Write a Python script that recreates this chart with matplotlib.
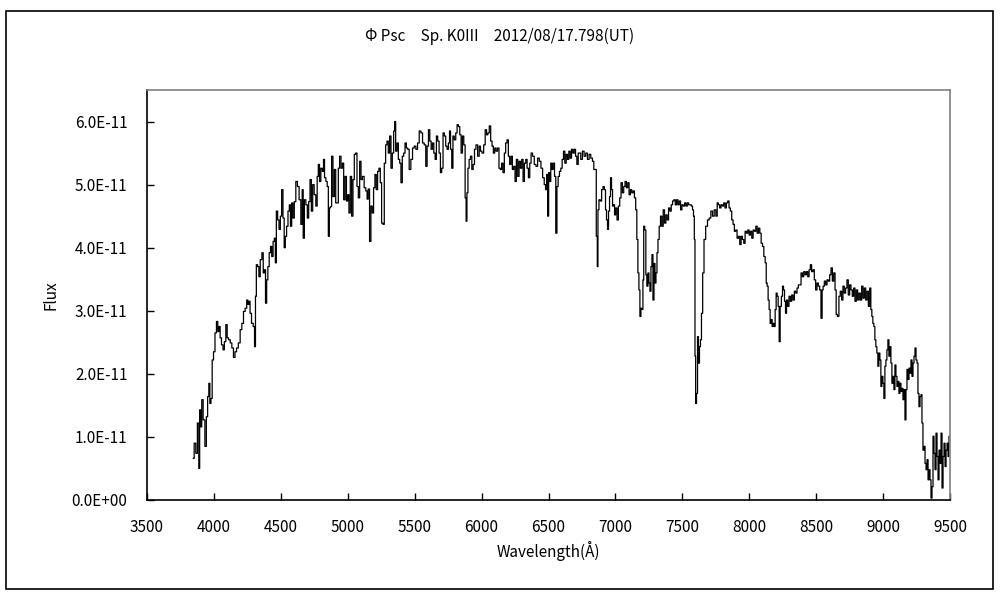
import matplotlib
matplotlib.use("Agg")
import matplotlib.pyplot as plt
from matplotlib.patches import Rectangle
from matplotlib.ticker import FuncFormatter

plt.rcParams['font.family'] = ['Noto Sans CJK JP', 'DejaVu Sans']

# wavelength (A) and flux (units of 1E-11)
wavelength = [
    3846, 3859, 3870, 3883, 3891, 3896, 3905, 3913, 3926, 3939,
    3948, 3958, 3966, 3973, 3983, 3991, 4003, 4013, 4025, 4033,
    4043, 4050, 4063, 4073, 4083, 4095, 4103, 4116, 4128, 4140,
    4152, 4163, 4175, 4190, 4202, 4215, 4227, 4240, 4250, 4257,
    4265, 4275, 4287, 4300, 4307, 4314, 4320, 4332, 4340, 4352,
    4365, 4372, 4382, 4389, 4399, 4407, 4419, 4427, 4437, 4447,
    4456, 4462, 4471, 4481, 4492, 4501, 4511, 4521, 4529, 4538,
    4548, 4559, 4568, 4576, 4586, 4595, 4606, 4618, 4630, 4643,
    4656, 4663, 4671, 4681, 4693, 4703, 4713, 4723, 4733, 4743,
    4755, 4768, 4775, 4785, 4793, 4805, 4815, 4823, 4830, 4843,
    4850, 4860, 4865, 4875, 4884, 4895, 4905, 4915, 4925, 4934,
    4944, 4955, 4965, 4974, 4985, 4995, 5004, 5014, 5024, 5034,
    5044, 5054, 5064, 5074, 5084, 5094, 5104, 5116, 5129, 5141,
    5148, 5158, 5168, 5178, 5188, 5198, 5208, 5218, 5228, 5238,
    5248, 5258, 5268, 5278, 5288, 5298, 5308, 5318, 5328, 5338,
    5348, 5353, 5363, 5373, 5383, 5393, 5402, 5413, 5423, 5433,
    5443, 5453, 5465, 5478, 5490, 5503, 5515, 5528, 5540, 5553,
    5565, 5578, 5588, 5598, 5608, 5618, 5628, 5638, 5648, 5658,
    5667, 5677, 5688, 5697, 5707, 5717, 5727, 5737, 5747, 5757,
    5764, 5772, 5782, 5790, 5802, 5812, 5822, 5832, 5842, 5852,
    5862, 5872, 5882, 5887, 5894, 5902, 5912, 5922, 5932, 5942,
    5952, 5964, 5977, 5987, 5997, 6009, 6022, 6032, 6042, 6052,
    6063, 6073, 6083, 6093, 6103, 6113, 6125, 6135, 6145, 6155,
    6165, 6175, 6185, 6195, 6205, 6215, 6225, 6235, 6245, 6255,
    6265, 6275, 6285, 6295, 6305, 6315, 6325, 6335, 6345, 6355,
    6365, 6375, 6387, 6400, 6412, 6425, 6437, 6450, 6462, 6474,
    6482, 6490, 6497, 6505, 6512, 6522, 6530, 6540, 6550, 6559,
    6567, 6577, 6587, 6597, 6607, 6617, 6627, 6637, 6647, 6657,
    6667, 6677, 6687, 6697, 6707, 6717, 6727, 6735, 6747, 6760,
    6772, 6785, 6797, 6810, 6822, 6835, 6842, 6852, 6862, 6867,
    6872, 6882, 6892, 6902, 6912, 6922, 6930, 6937, 6945, 6952,
    6960, 6967, 6975, 6982, 6990, 6997, 7007, 7017, 7027, 7037,
    7047, 7057, 7067, 7077, 7087, 7097, 7107, 7117, 7127, 7137,
    7147, 7156, 7164, 7172, 7179, 7187, 7194, 7202, 7209, 7214,
    7224, 7231, 7239, 7247, 7254, 7262, 7269, 7277, 7284, 7292,
    7299, 7307, 7314, 7322, 7332, 7342, 7352, 7362, 7372, 7382,
    7392, 7402, 7412, 7422, 7432, 7442, 7452, 7462, 7472, 7482,
    7492, 7502, 7512, 7522, 7532, 7542, 7552, 7562, 7572, 7580,
    7587, 7592, 7597, 7602, 7610, 7617, 7624, 7632, 7639, 7647,
    7657, 7667, 7682, 7694, 7707, 7719, 7732, 7744, 7757, 7764,
    7774, 7784, 7794, 7804, 7814, 7824, 7834, 7844, 7854, 7864,
    7874, 7884, 7894, 7904, 7914, 7924, 7934, 7944, 7954, 7964,
    7974, 7984, 7994, 8004, 8014, 8024, 8034, 8044, 8054, 8064,
    8074, 8084, 8094, 8104, 8114, 8124, 8130, 8137, 8145, 8152,
    8160, 8167, 8175, 8182, 8190, 8197, 8205, 8212, 8220, 8227,
    8235, 8245, 8252, 8260, 8267, 8275, 8282, 8292, 8302, 8312,
    8322, 8332, 8342, 8352, 8362, 8372, 8382, 8392, 8402, 8412,
    8422, 8432, 8442, 8452, 8461, 8471, 8481, 8491, 8501, 8511,
    8521, 8531, 8541, 8548, 8556, 8566, 8576, 8586, 8596, 8606,
    8616, 8626, 8636, 8646, 8653, 8665, 8675, 8685, 8695, 8705,
    8715, 8725, 8735, 8745, 8755, 8765, 8775, 8785, 8795, 8805,
    8815, 8825, 8835, 8845, 8855, 8865, 8875, 8885, 8895, 8905,
    8912, 8920, 8927, 8935, 8942, 8950, 8957, 8965, 8972, 8980,
    8987, 8995, 9002, 9010, 9017, 9025, 9032, 9040, 9047, 9055,
    9062, 9070, 9077, 9085, 9092, 9100, 9107, 9115, 9122, 9130,
    9137, 9145, 9152, 9160, 9167, 9175, 9182, 9190, 9197, 9205,
    9212, 9220, 9227, 9235, 9242, 9250, 9257, 9264, 9272, 9280,
    9287, 9294, 9302, 9310, 9317, 9325, 9332, 9340, 9347, 9354,
    9362, 9369, 9377, 9384, 9392, 9399, 9407, 9414, 9422, 9429,
    9437, 9444, 9452, 9459, 9467, 9474, 9482, 9489, 9496,
]

flux_e11 = [
    0.66, 0.90, 0.74, 1.22, 0.50, 1.43, 1.16, 1.59, 1.27, 0.85,
    1.32, 1.64, 1.85, 1.53, 1.61, 2.22, 2.35, 2.65, 2.83, 2.67,
    2.75, 2.57, 2.46, 2.38, 2.51, 2.78, 2.57, 2.54, 2.49, 2.41,
    2.26, 2.35, 2.41, 2.49, 2.70, 2.80, 2.99, 3.04, 3.17, 3.10,
    3.15, 2.96, 2.80, 2.75, 2.43, 3.23, 3.73, 3.70, 3.54, 3.81,
    3.92, 3.60, 3.65, 3.12, 3.49, 3.70, 3.92, 4.02, 3.86, 4.10,
    4.15, 3.76, 4.58, 4.44, 4.29, 4.50, 4.92, 4.47, 4.00, 4.18,
    4.34, 4.58, 4.68, 4.34, 4.71, 4.47, 4.73, 5.05, 4.97, 4.76,
    4.37, 4.92, 4.15, 4.76, 4.68, 4.47, 4.73, 5.08, 4.58, 5.00,
    4.84, 4.66, 5.13, 5.32, 5.05, 5.26, 5.21, 5.40, 5.11, 5.05,
    4.97, 4.18, 4.63, 4.65, 5.45, 4.81, 5.24, 4.71, 4.71, 5.26,
    5.45, 5.26, 5.34, 4.76, 5.13, 4.74, 4.84, 4.55, 5.13, 4.50,
    5.08, 5.48, 5.50, 4.97, 4.79, 5.37, 5.08, 5.13, 4.95, 4.90,
    4.77, 4.93, 4.10, 4.66, 4.55, 4.95, 5.16, 4.92, 5.21, 5.26,
    5.03, 4.39, 4.37, 5.34, 5.63, 5.69, 5.50, 5.77, 5.26, 5.50,
    5.85, 6.00, 5.53, 5.66, 5.40, 5.34, 5.03, 5.45, 5.50, 5.66,
    5.58, 5.56, 5.24, 5.40, 5.58, 5.61, 5.56, 5.66, 5.85, 5.82,
    5.66, 5.63, 5.29, 5.61, 5.87, 5.69, 5.56, 5.66, 5.50, 5.40,
    5.77, 5.69, 5.50, 5.19, 5.26, 5.82, 5.77, 5.61, 5.56, 5.66,
    5.85, 5.56, 5.26, 5.77, 5.71, 5.82, 5.95, 5.92, 5.79, 5.50,
    5.77, 5.63, 4.79, 4.42, 4.87, 5.26, 5.40, 5.45, 5.24, 5.32,
    5.56, 5.63, 5.45, 5.61, 5.53, 5.50, 5.63, 5.87, 5.79, 5.82,
    5.93, 5.69, 5.61, 5.50, 5.58, 5.53, 5.58, 5.26, 5.24, 5.34,
    5.19, 5.50, 5.66, 5.71, 5.45, 5.32, 5.45, 5.24, 5.29, 5.05,
    5.40, 5.13, 5.37, 5.26, 5.40, 5.05, 5.34, 5.40, 5.26, 5.11,
    5.34, 5.50, 5.45, 5.32, 5.29, 5.42, 5.37, 5.26, 5.11, 5.00,
    4.92, 5.16, 4.50, 5.19, 5.05, 5.34, 5.24, 5.34, 5.13, 4.23,
    4.97, 5.13, 5.21, 5.26, 5.40, 5.53, 5.34, 5.48, 5.40, 5.53,
    5.42, 5.56, 5.50, 5.56, 5.45, 5.32, 5.50, 5.50, 5.40, 5.53,
    5.45, 5.50, 5.40, 5.48, 5.42, 5.37, 5.24, 5.24, 4.18, 3.70,
    4.60, 4.76, 4.74, 4.92, 4.97, 4.92, 4.60, 4.44, 4.29, 4.58,
    4.81, 5.11, 4.92, 4.66, 4.68, 4.52, 4.63, 4.44, 4.66, 4.79,
    5.03, 4.87, 4.97, 5.05, 4.95, 5.03, 4.84, 4.92, 4.87, 4.90,
    4.79, 4.60, 4.13, 3.60, 3.33, 2.91, 3.04, 3.02, 3.49, 4.34,
    4.28, 3.57, 3.39, 3.60, 3.44, 3.31, 3.70, 3.89, 3.17, 3.75,
    3.44, 3.60, 3.92, 4.13, 4.34, 4.50, 4.34, 4.60, 4.39, 4.52,
    4.44, 4.63, 4.58, 4.68, 4.74, 4.76, 4.68, 4.76, 4.68, 4.74,
    4.60, 4.68, 4.66, 4.71, 4.66, 4.71, 4.68, 4.68, 4.66, 4.60,
    4.50, 4.13, 2.28, 1.53, 1.69, 2.59, 2.17, 2.43, 2.54, 2.96,
    3.60, 4.13, 4.34, 4.44, 4.47, 4.58, 4.50, 4.60, 4.50, 4.71,
    4.68, 4.63, 4.68, 4.66, 4.71, 4.63, 4.71, 4.74, 4.63, 4.58,
    4.44, 4.37, 4.26, 4.28, 4.15, 4.18, 4.05, 4.18, 4.13, 4.07,
    4.26, 4.23, 4.28, 4.20, 4.26, 4.15, 4.28, 4.26, 4.34, 4.23,
    4.31, 4.23, 4.07, 4.02, 3.86, 3.76, 3.44, 3.39, 3.17, 3.02,
    2.80, 2.86, 2.75, 2.80, 2.75, 3.02, 3.28, 3.23, 3.07, 2.51,
    3.07, 3.23, 3.39, 3.33, 3.15, 2.96, 3.17, 3.07, 3.23, 3.15,
    3.25, 3.17, 3.31, 3.28, 3.36, 3.41, 3.41, 3.60, 3.54, 3.62,
    3.57, 3.62, 3.54, 3.65, 3.73, 3.62, 3.65, 3.49, 3.33, 3.44,
    3.39, 3.33, 2.88, 3.33, 3.39, 3.47, 3.41, 3.49, 3.47, 3.57,
    3.68, 3.47, 3.60, 3.33, 2.94, 2.91, 3.23, 3.31, 3.17, 3.39,
    3.28, 3.36, 3.49, 3.25, 3.41, 3.33, 3.23, 3.36, 3.15, 3.33,
    3.17, 3.28, 3.17, 3.39, 3.20, 3.36, 3.17, 3.31, 3.07, 3.36,
    3.02, 2.91, 2.80, 2.75, 2.54, 2.43, 2.33, 2.12, 2.33, 2.22,
    1.80, 1.96, 1.85, 1.61, 2.12, 2.22, 2.38, 2.54, 2.28, 2.43,
    2.17, 1.85, 1.96, 1.75, 2.14, 1.96, 1.80, 1.88, 1.69, 1.85,
    1.72, 1.77, 1.59, 1.75, 1.27, 1.75, 2.07, 1.91, 2.09, 2.01,
    2.22, 1.96, 2.17, 2.28, 2.41, 2.22, 2.17, 1.69, 1.48, 1.64,
    1.67, 1.22, 0.79, 0.85, 0.58, 0.48, 0.64, 0.32, 0.48, 0.32,
    0.03, 0.21, 1.01, 0.74, 0.48, 1.06, 0.69, 0.32, 0.79, 0.58,
    1.06, 0.19, 0.69, 0.90, 0.53, 0.79, 0.90, 0.69, 1.01,
]

title = "Φ Psc　Sp. K0III　2012/08/17.798(UT)"
x_ticks = list(range(3500, 10000, 500))
y_ticks = [0, 1e-11, 2e-11, 3e-11, 4e-11, 5e-11, 6e-11]


def sci_label(v, pos):
    if v == 0:
        return "0.0E+00"
    return "%.1fE-11" % (v / 1e-11)


fig = plt.figure(figsize=(10, 6), dpi=100)
# outer frame like the Excel chart area
fig.patches.append(Rectangle((0.006, 0.018), 0.987, 0.964, transform=fig.transFigure,
                             fill=False, edgecolor="black", linewidth=1.2))

ax = fig.add_axes([0.147, 0.1667, 0.803, 0.6833])
flux = [f * 1e-11 for f in flux_e11]
ax.plot(wavelength, flux, color="black", linewidth=0.9, drawstyle="steps-mid")

ax.set_xlim(3500, 9500)
ax.set_ylim(0, 6.5e-11)
ax.set_xticks(x_ticks)
ax.set_yticks(y_ticks)
ax.yaxis.set_major_formatter(FuncFormatter(sci_label))
ax.tick_params(direction="in", length=5, width=1, labelsize=11, color="black")
ax.tick_params(axis="x", pad=14)
ax.tick_params(axis="y", pad=14)

for side in ["left", "bottom"]:
    ax.spines[side].set_color("black")
    ax.spines[side].set_linewidth(1.2)
for side in ["top", "right"]:
    ax.spines[side].set_color("#808080")
    ax.spines[side].set_linewidth(1.2)

ax.set_xlabel("Wavelength(Å)", fontsize=11, labelpad=3)
ax.set_ylabel("Flux", fontsize=11, labelpad=9)
fig.text(0.5, 0.94, title, ha="center", va="center", fontsize=11)

fig.savefig("out.png", dpi=100)
